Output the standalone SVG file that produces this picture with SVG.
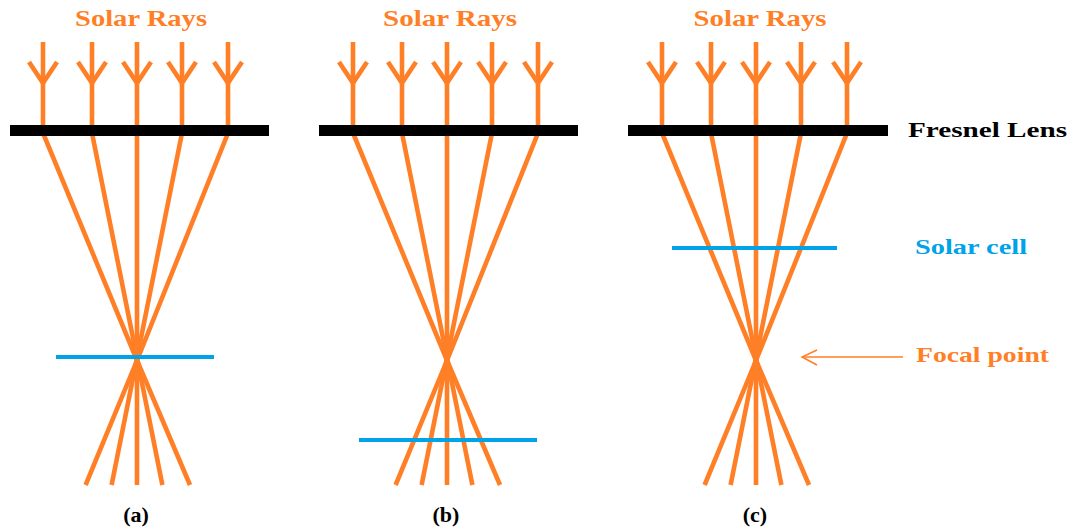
<svg xmlns="http://www.w3.org/2000/svg" width="1069" height="531" viewBox="0 0 1069 531">
<defs>
<style>
.ray{fill:none;stroke:#FF7F27;stroke-width:4.6;stroke-linejoin:miter}
.lens{fill:#000}
.cell{stroke:#00A2E8;stroke-width:4}
.t{font-family:"Liberation Serif","Times New Roman",serif;font-weight:bold}
.or{fill:#FF7F27}
</style>
<g id="rayset">
<polyline class="ray" points="-94,42 -94,133 -1,358 53,485"/>
<polyline class="ray" points="-45,42 -45,133 0,358 25.4,485"/>
<polyline class="ray" points="0,42 0,485"/>
<polyline class="ray" points="45,42 45,133 0,358 -25.4,485"/>
<polyline class="ray" points="91,42 91,133 1,358 -51.4,485"/>
<polyline class="ray" points="-108,62 -94,83 -80,62"/>
<polyline class="ray" points="-59,62 -45,83 -31,62"/>
<polyline class="ray" points="-14,62 0,83 14,62"/>
<polyline class="ray" points="31,62 45,83 59,62"/>
<polyline class="ray" points="77,62 91,83 105,62"/>
</g>
</defs>
<rect width="1069" height="531" fill="#fff"/>
<g id="panel-a">
<use href="#rayset" transform="translate(137,0)"/>
<rect class="lens" x="10" y="125" width="259" height="11"/>
<line class="cell" x1="56" y1="357" x2="214" y2="357"/>
<text class="t or" x="141" y="26" font-size="24" text-anchor="middle" textLength="132" lengthAdjust="spacingAndGlyphs">Solar Rays</text>
<text class="t" x="136" y="522" font-size="22" text-anchor="middle" fill="#000">(a)</text>
</g>
<g id="panel-b">
<use href="#rayset" transform="translate(447,0)"/>
<rect class="lens" x="319" y="125" width="259" height="11"/>
<line class="cell" x1="359" y1="440" x2="537" y2="440"/>
<text class="t or" x="450" y="26" font-size="24" text-anchor="middle" textLength="134" lengthAdjust="spacingAndGlyphs">Solar Rays</text>
<text class="t" x="446" y="522" font-size="22" text-anchor="middle" fill="#000">(b)</text>
</g>
<g id="panel-c">
<use href="#rayset" transform="translate(756,0)"/>
<rect class="lens" x="628" y="125" width="260" height="11"/>
<line class="cell" x1="672" y1="248" x2="837" y2="248"/>
<text class="t or" x="760" y="26" font-size="24" text-anchor="middle" textLength="133" lengthAdjust="spacingAndGlyphs">Solar Rays</text>
<text class="t" x="755" y="522" font-size="22" text-anchor="middle" fill="#000">(c)</text>
</g>
<g id="labels">
<text class="t" x="908" y="137" font-size="20" fill="#000" textLength="159" lengthAdjust="spacingAndGlyphs">Fresnel Lens</text>
<text class="t" x="915" y="254" font-size="21" fill="#00A2E8" textLength="112" lengthAdjust="spacingAndGlyphs">Solar cell</text>
<text class="t or" x="916" y="362" font-size="21" textLength="133" lengthAdjust="spacingAndGlyphs">Focal point</text>
</g>
<g id="connectors">
<polyline points="817,350 802,357 817,365" fill="none" stroke="#FF7F27" stroke-width="1.5"/>
<line x1="802" y1="357" x2="903" y2="357" stroke="#FF7F27" stroke-width="1.5"/>
</g>
</svg>
